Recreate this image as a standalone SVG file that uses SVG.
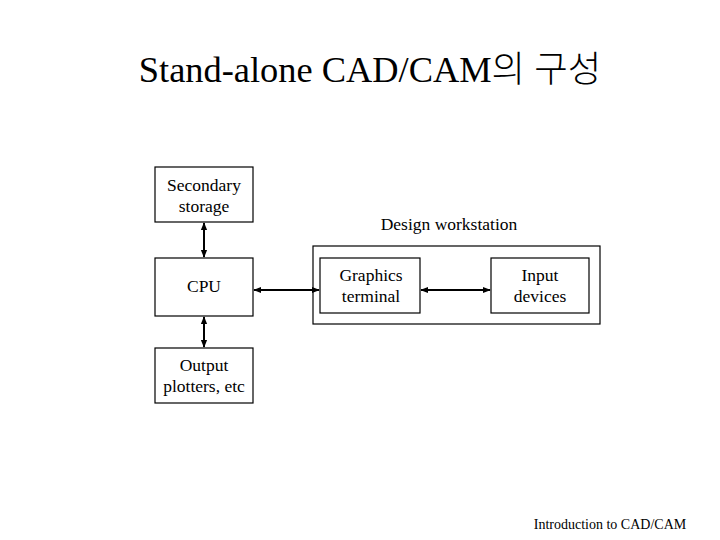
<svg xmlns="http://www.w3.org/2000/svg" width="720" height="540" viewBox="0 0 720 540">
<style>
.box{fill:#fff;stroke:#000;stroke-width:1.2}
.t{font-family:"Liberation Serif","Noto Sans CJK KR",serif;font-size:17.5px;fill:#000;text-anchor:middle}
.c{stroke:#000;stroke-width:2;fill:none;marker-start:url(#ah);marker-end:url(#ah)}
</style>
<defs>
<marker id="ah" viewBox="0 0 10 10" refX="9" refY="5" markerWidth="4" markerHeight="4" orient="auto-start-reverse" markerUnits="strokeWidth">
<path d="M0,1 L10,5 L0,9 z" fill="#000"/>
</marker>
</defs>
<rect width="720" height="540" fill="#fff"/>
<text x="370" y="82" font-family="'Liberation Serif','Noto Sans CJK KR',serif" font-size="36.4" text-anchor="middle">Stand-alone CAD/CAM<tspan font-weight="300">의 구성</tspan></text>
<g id="workstation">
<rect class="box" x="313" y="246" width="287" height="78"/>
<text class="t" x="449" y="230">Design workstation</text>
</g>
<g id="secondary">
<rect class="box" x="155" y="167" width="98" height="55"/>
<text class="t" x="204" y="191">Secondary</text>
<text class="t" x="204" y="212">storage</text>
</g>
<g id="cpu">
<rect class="box" x="155" y="258" width="98" height="58"/>
<text class="t" x="204" y="292">CPU</text>
</g>
<g id="output">
<rect class="box" x="155" y="348" width="98" height="55"/>
<text class="t" x="204" y="371">Output</text>
<text class="t" x="204" y="392">plotters, etc</text>
</g>
<g id="graphics">
<rect class="box" x="320" y="258" width="100" height="55"/>
<text class="t" x="371" y="281">Graphics</text>
<text class="t" x="371" y="302">terminal</text>
</g>
<g id="input">
<rect class="box" x="491" y="258" width="98" height="55"/>
<text class="t" x="540" y="281">Input</text>
<text class="t" x="540" y="302">devices</text>
</g>
<g id="connectors">
<line class="c" x1="204" y1="223" x2="204" y2="257"/>
<line class="c" x1="204" y1="317" x2="204" y2="347"/>
<line class="c" x1="254" y1="290" x2="319" y2="290"/>
<line class="c" x1="421" y1="290" x2="490" y2="290"/>
</g>
<text x="610" y="529" font-family="'Liberation Serif',serif" font-size="14" text-anchor="middle">Introduction to CAD/CAM</text>
</svg>
